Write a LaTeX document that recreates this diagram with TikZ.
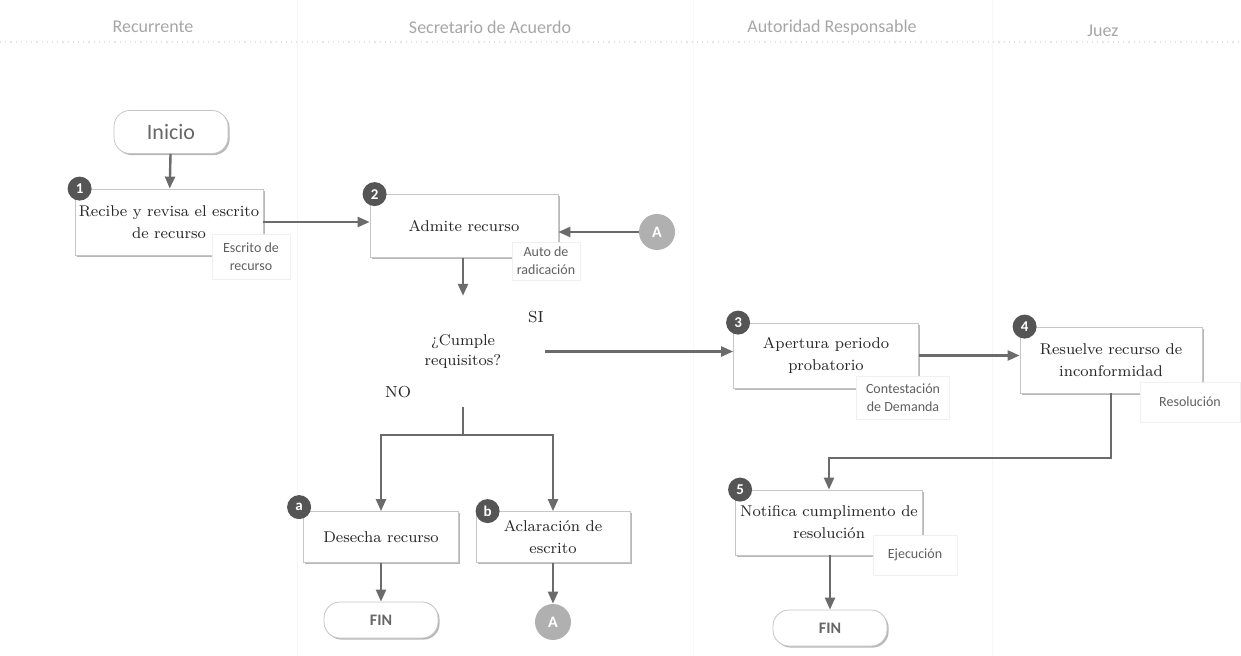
\documentclass[tikz,border=0pt]{standalone}
\usepackage{fontspec}
\newfontfamily\lanefont{Carlito}
\usetikzlibrary{arrows.meta,shapes.geometric,shadows}
\definecolor{flowgray}{HTML}{6B6B6B}
\definecolor{badgegray}{HTML}{555555}
\definecolor{circgray}{HTML}{B0B0B0}
\tikzset{
  lanehead/.style={font=\lanefont\fontsize{9}{10}\selectfont, text=gray!70},
  task/.style={draw=gray!45, fill=white, line width=0.4pt, align=center,
    inner sep=1pt, font=\fontsize{7.8}{11}\selectfont, text=black!85,
    drop shadow={shadow xshift=0.8pt, shadow yshift=-0.8pt, fill=gray!70, opacity=0.8}},
  terminal/.style={draw=gray!45, fill=white, line width=0.4pt, rounded corners=8pt,
    minimum width=57pt, minimum height=18pt,
    drop shadow={shadow xshift=0.8pt, shadow yshift=-0.8pt, fill=gray!70, opacity=0.8}},
  badge/.style={circle, fill=badgegray, text=white, minimum size=12pt, inner sep=0pt,
    font=\lanefont\bfseries\fontsize{7.5}{8}\selectfont},
  jump/.style={circle, fill=circgray, text=white, minimum size=18pt, inner sep=0pt,
    font=\lanefont\bfseries\fontsize{8}{9}\selectfont},
  doclabel/.style={fill=white, draw=gray!12, align=center, inner sep=1pt,
    font=\lanefont\fontsize{7}{9}\selectfont, text=gray!75!black},
  flow/.style={draw=flowgray, line width=1.2pt, -{Triangle[length=6pt,width=5pt]}},
  flowline/.style={draw=flowgray, line width=1.2pt}
}
\begin{document}
\begin{tikzpicture}[x=0.5pt,y=-0.5pt]
\useasboundingbox (0,0) rectangle (1241,656);
% carriles
\draw[gray!22, dotted, line width=0.6pt] (0,42) -- (1241,42);
\foreach \lx in {297,693,992}
  \draw[gray!6, line width=0.5pt] (\lx,0) -- (\lx,656);
\node[lanehead] (h1) at (153,27) {Recurrente};
\node[lanehead] (h2) at (490,27) {Secretario de Acuerdo};
\node[lanehead] (h3) at (832,28) {Autoridad Responsable};
\node[lanehead] (h4) at (1103,31) {Juez};

% actividades
\node[terminal, minimum height=21.5pt, font=\lanefont\fontsize{11}{12}\selectfont, text=gray!80!black] (inicio) at (171,132) {Inicio};
\node[task, minimum width=94pt, minimum height=33pt] (b1) at (169,222) {Recibe y revisa el escrito\\de recurso};
\node[task, minimum width=94pt, minimum height=31.5pt] (b2) at (464,226) {Admite recurso};
\node[jump] (a1) at (657,232) {A};
\node[diamond, minimum width=82pt, minimum height=51.5pt, align=center, inner sep=0pt,
  font=\fontsize{7.8}{10}\selectfont, text=black!85] (dec) at (463,351.5) {¿Cumple\\requisitos?};
\node[font=\fontsize{8}{9}\selectfont, text=black!85] (si) at (536,317) {SI};
\node[font=\fontsize{8}{9}\selectfont, text=black!85] (no) at (398,392) {NO};
\node[task, minimum width=77.5pt, minimum height=25.5pt] (ba) at (381,537) {Desecha recurso};
\node[task, minimum width=77pt, minimum height=25.5pt] (bb) at (553,537) {Aclaración de\\escrito};
\node[terminal, font=\lanefont\bfseries\fontsize{8}{9}\selectfont, text=gray!80!black] (fin1) at (381,620) {FIN};
\node[jump] (a2) at (553,622) {A};
\node[task, minimum width=92.5pt, minimum height=32.5pt] (b3) at (826,355.5) {Apertura periodo\\probatorio};
\node[task, minimum width=91pt, minimum height=33pt] (b4) at (1111,360) {Resuelve recurso de\\inconformidad};
\node[task, minimum width=93.5pt, minimum height=32.5pt] (b5) at (829,522.5) {Notifica cumplimento de\\resolución};
\node[terminal, font=\lanefont\bfseries\fontsize{8}{9}\selectfont, text=gray!80!black] (fin2) at (830,628) {FIN};

% numeros
\node[badge] (n1) at ([xshift=2.5pt]b1.north west) {1};
\node[badge] (n2) at ([xshift=2.5pt]b2.north west) {2};
\node[badge] (n3) at ([xshift=2.5pt]b3.north west) {3};
\node[badge] (n4) at ([xshift=2.5pt]b4.north west) {4};
\node[badge] (n5) at ([xshift=2.5pt]b5.north west) {5};
\node[badge] (na) at ([xshift=-2pt,yshift=2pt]ba.north west) {a};
\node[badge] (nb) at ([xshift=6pt]bb.north west) {b};

% documentos
\node[doclabel, minimum width=39pt, minimum height=22.5pt] (d1) at (251,257) {Escrito de\\recurso};
\node[doclabel, minimum width=34pt, minimum height=19pt] (d2) at (546,261) {Auto de\\radicación};
\node[doclabel, minimum width=46.5pt, minimum height=21.5pt] (d3) at (903,398) {Contestación\\de Demanda};
\node[doclabel, minimum width=50pt, minimum height=20pt] (d4) at (1190,402) {Resolución};
\node[doclabel, minimum width=42pt, minimum height=20pt] (d5) at (915,555) {Ejecución};

% conectores
\draw[flow] (inicio) -- (b1);
\draw[flow] (b1.east) -- (b1.east -| b2.west);
\draw[flow] (a1) -- (a1 -| b2.east);
\draw[flow] (b2.south -| dec.north) -- (dec.north);
\draw[flow] (dec.east) -- (dec.east -| b3.west);
\coordinate (split) at (463,435);
\draw[flowline] (dec.south) -- (split);
\draw[flow] (split) -| (ba.north);
\draw[flow] (split) -| (bb.north);
\draw[flow] (ba) -- (fin1);
\draw[flow] (bb) -- (a2);
\draw[flow] (b3.east) -- (b3.east -| b4.west);
\coordinate (turn) at (1111,458);
\draw[flow] (b4.south) -- (turn) -| (b5.north);
\draw[flow] (b5.south -| fin2.north) -- (fin2.north);
\end{tikzpicture}
\end{document}
